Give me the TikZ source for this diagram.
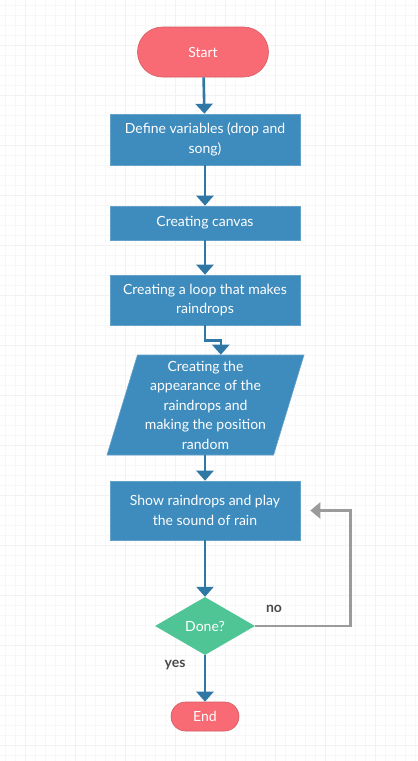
\documentclass[tikz,border=0pt]{standalone}
\usepackage{fontspec}
\setmainfont{Lato}
\usetikzlibrary{arrows.meta,shapes.geometric,calc}

\definecolor{pillred}{HTML}{F96B74}
\definecolor{boxblue}{HTML}{3E8BBD}
\definecolor{lineblue}{HTML}{2F78A5}
\definecolor{donegreen}{HTML}{4FC596}
\definecolor{loopgray}{HTML}{9B9B9B}
\definecolor{labelgray}{HTML}{4A4A4A}

\begin{document}
\begin{tikzpicture}[x=1pt,y=-1pt,
    every node/.style={font=\fontsize{14}{19.5}\selectfont, text=white, align=center, inner sep=0pt},
    pill/.style={fill=pillred, draw=pillred!85!black, line width=0.6pt},
    stepbox/.style={rectangle, fill=boxblue, draw=boxblue!80!white, line width=0.6pt, minimum width=190},
    iobox/.style={trapezium, trapezium left angle=71, trapezium right angle=109,
        trapezium stretches body, fill=boxblue, draw=boxblue!80!white, line width=0.6pt,
        minimum width=197, minimum height=100},
    decision/.style={diamond, aspect=1.72, fill=donegreen, minimum width=100, minimum height=58},
    flow/.style={draw=lineblue, line width=2.6pt, -{Triangle[width=17pt,length=10pt]}},
    back/.style={draw=loopgray, line width=2.4pt, -{Triangle[width=16pt,length=10pt]}},
    answer/.style={text=labelgray, font=\fontsize{14}{16}\selectfont\bfseries},
    gridminor/.style={draw=black!3, line width=0.8pt},
    gridmajor/.style={draw=black!5, line width=1pt}
]
    % page and grid paper
    \useasboundingbox (0,0) rectangle (418,761);
    \fill[white] (0,0) rectangle (418,761);
    \foreach \x in {5,15,...,415} \draw[gridminor] (\x,0) -- (\x,761);
    \foreach \y in {5,15,...,755} \draw[gridminor] (0,\y) -- (418,\y);
    \foreach \x in {25,75,...,415} \draw[gridmajor] (\x,0) -- (\x,761);
    \foreach \y in {45,95,...,755} \draw[gridmajor] (0,\y) -- (418,\y);

    % the steps
    \node[pill, rounded corners=25, minimum width=131, minimum height=50] (start) at (203,52) {Start};
    \node[stepbox, minimum height=51] (define) at (205,139.5) {Define variables (drop and\\song)};
    \node[stepbox, minimum height=34] (canvas) at (205,223) {Creating canvas};
    \node[stepbox, minimum height=50] (loop) at (205,300) {Creating a loop that makes\\raindrops};
    \node[iobox] (look) at (205.5,405) {Creating the\\appearance of the\\raindrops and\\making the position\\random};
    \node[stepbox, minimum height=59] (show) at (205,510.5) {Show raindrops and play\\the sound of rain};
    \node[decision] (done) at (205,626) {Done?};
    \node[pill, rounded corners=14.5, minimum width=68, minimum height=29] (end) at (205,716.5) {End};

    % helper points
    \coordinate (looktop) at ($(look.top left corner)!0.5!(look.top right corner)$);
    \coordinate (loopin) at ($(show.east)+(10,0)$);

    % connectors
    \draw[flow] (start) -- (define);
    \draw[flow] (define) -- (canvas);
    \draw[flow] (canvas) -- (loop);
    \draw[flow] (loop.south) -- ++(0,15) -| (looktop);
    \draw[flow] (look.south -| show.north) -- (show.north);
    \draw[flow] (show) -- (done);
    \draw[flow] (done) -- (end);
    \draw[back] (done.east) -| ($(loopin)+(40,0)$) -- (loopin);

    % answers
    \node[answer] (no) at (274,609) {no};
    \node[answer] (yes) at (175,665) {yes};

\end{tikzpicture}
\end{document}
